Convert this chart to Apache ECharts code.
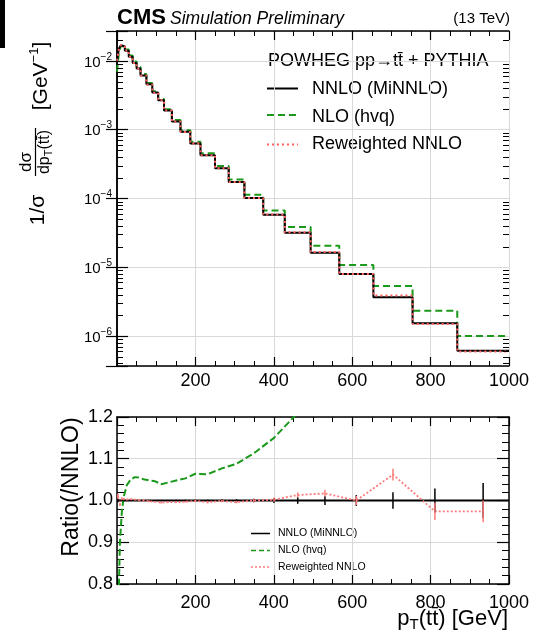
<!DOCTYPE html>
<html><head><meta charset="utf-8">
<script src="https://cdn.jsdelivr.net/npm/echarts@6/dist/echarts.min.js"></script>
<style>html,body{margin:0;padding:0;background:#fff}#c{width:533px;height:639px}</style>
</head><body><div id="c"></div>
<script>
// ---- data ----
const binEdges = [0,5,10,15,20,30,40,50,60,75,90,105,120,140,162,187,213,250,285,325,373,428,494,567,654,754,868,1000];
const binCenters = [2.5,7.5,12.5,17.5,25,35,45,55,67.5,82.5,97.5,112.5,130,151,174.5,200,231.5,267.5,305,349,400.5,461,530.5,610.5,704,811,934];
const nnloValues = [0.0100,0.01514,0.01698,0.01622,0.01413,0.01148,0.00933,0.00776,0.00617,0.00457,0.00347,0.00269,0.00191,0.00132,0.000933,0.000631,0.000427,0.000275,0.000174,0.000102,5.82e-5,3.18e-5,1.63e-5,7.98e-6,3.66e-6,1.53e-6,6.1e-7];
const nloValues = [0.0070,0.01363,0.01656,0.01638,0.01465,0.01205,0.00985,0.00819,0.00648,0.00479,0.00363,0.00279,0.00199,0.00138,0.000982,0.000671,0.000454,0.000296,0.000189,0.0001135,6.69e-5,3.85e-5,2.06e-5,1.08e-5,5.33e-6,2.33e-6,1.0e-6];
const rewValues = [0.0101,0.01499,0.01706,0.01627,0.01416,0.01151,0.00935,0.00777,0.00617,0.00456,0.00346,0.00268,0.00190,0.001315,0.000930,0.000630,0.000425,0.000275,0.000173,0.000102,5.83e-5,3.22e-5,1.66e-5,7.98e-6,3.89e-6,1.49e-6,5.94e-7];
const ratioNNLO = [1,1,1,1,1,1,1,1,1,1,1,1,1,1,1,1,1,1,1,1,1,1,1,1,1,1,1];
const ratioNLO = [0.70,0.90,0.975,1.01,1.037,1.05,1.056,1.055,1.051,1.048,1.046,1.039,1.043,1.048,1.053,1.064,1.063,1.077,1.088,1.113,1.15,1.21,1.26,1.35,1.46,1.52,1.65];
const ratioRew = [1.01,0.99,1.005,1.003,1.002,1.003,1.002,1.001,1.0,0.998,0.997,0.995,0.996,0.996,0.997,0.999,0.996,0.999,0.996,1.0,1.002,1.013,1.017,1.0,1.062,0.974,0.974];
const errNNLO = [0.004,0.002,0.002,0.002,0.001,0.001,0.001,0.001,0.001,0.001,0.001,0.001,0.001,0.002,0.002,0.002,0.002,0.003,0.003,0.004,0.006,0.008,0.011,0.013,0.02,0.029,0.042];
const errRew = [0.006,0.003,0.003,0.002,0.002,0.002,0.002,0.002,0.002,0.002,0.002,0.002,0.002,0.002,0.002,0.003,0.003,0.003,0.003,0.004,0.005,0.006,0.008,0.011,0.014,0.021,0.026];
const xTicks = [200,400,600,800,1000];
const logMinorTicks = [4e-7,5e-7,6e-7,7e-7,8e-7,9e-7,
  2e-6,3e-6,4e-6,5e-6,6e-6,7e-6,8e-6,9e-6,
  2e-5,3e-5,4e-5,5e-5,6e-5,7e-5,8e-5,9e-5,
  2e-4,3e-4,4e-4,5e-4,6e-4,7e-4,8e-4,9e-4,
  2e-3,3e-3,4e-3,5e-3,6e-3,7e-3,8e-3,9e-3, 2e-2];
const legendNames = ['NNLO (MiNNLO)','NLO (hvq)','Reweighted NNLO'];

const FONT = '"Liberation Sans", Arial, Helvetica, sans-serif';
const GREEN = '#1a991a', RED = '#ff5f5f', RED2 = '#ff7a7a';
const yMinTop = 3.66e-7, yMaxTop = 0.0273;

function stepData(vals){ return binEdges.map((e,i)=>[e, vals[Math.min(i, vals.length-1)]]); }
function ptData(vals){ return binCenters.map((c,i)=>[c, vals[i]]); }
function errData(vals, errs){ return binCenters.map((c,i)=>[c, vals[i], errs[i]]); }

function xAx(grid, pos, labels, split, margin){
  return {type:'value', gridIndex:grid, position:pos, min:0, max:1000, interval:200,
    axisLine:{show:true, onZero:false, lineStyle:{color:'#000', width:1.5}},
    axisTick:{show:true, inside:true, length:9, lineStyle:{color:'#000', width:1.2}},
    minorTick:{show:true, splitNumber:4, length:5, lineStyle:{color:'#000', width:1}},
    axisLabel:{show:labels, showMinLabel:false, showMaxLabel:true, fontSize:18, color:'#000', fontFamily:FONT, margin:margin,
      formatter: v => xTicks.indexOf(Math.round(v))>=0 ? String(Math.round(v)) : ''},
    splitLine:{show:split, lineStyle:{color:'#d9d9d9', width:1}},
    minorSplitLine:{show:false}};
}
function logFmt(v){
  const e = Math.log10(v), r = Math.round(e);
  if (Math.abs(e-r) > 1e-6) return '';
  return '{b|10}{s|' + (r<0?'\u2212':'') + Math.abs(r) + '}';
}
function yLog(pos, labels, split){
  return {type:'log', logBase:10, gridIndex:0, position:pos, min:yMinTop, max:yMaxTop,
    axisLine:{show:true, lineStyle:{color:'#000', width:1.5}},
    axisTick:{show:true, inside:true, length:11, lineStyle:{color:'#000', width:1.2}},
    minorTick:{show:false},
    axisLabel:{show:labels, margin:5, formatter:logFmt, color:'#000', fontFamily:FONT,
      rich:{b:{fontSize:15, lineHeight:18, fontFamily:FONT, color:'#000', verticalAlign:'bottom'},
            s:{fontSize:10, lineHeight:10, fontFamily:FONT, color:'#000', verticalAlign:'top'}}},
    splitLine:{show:split, lineStyle:{color:'#d9d9d9', width:1}},
    minorSplitLine:{show:false}};
}
function yRatio(pos, labels, split){
  return {type:'value', gridIndex:1, position:pos, min:0.8, max:1.2, interval:0.1,
    axisLine:{show:true, onZero:false, lineStyle:{color:'#000', width:1.5}},
    axisTick:{show:true, inside:true, length:12, lineStyle:{color:'#000', width:1.2}},
    minorTick:{show:true, splitNumber:5, length:7, lineStyle:{color:'#000', width:1}},
    axisLabel:{show:labels, margin:4, fontSize:18, color:'#000', fontFamily:FONT, formatter: v => v.toFixed(1)},
    splitLine:{show:split, lineStyle:{color:'#d9d9d9', width:1.2}},
    minorSplitLine:{show:false}};
}
function errSeries(name, vals, errs, color){
  return {type:'custom', name:name, xAxisIndex:2, yAxisIndex:2, clip:true, z:5,
    data: errData(vals, errs),
    renderItem: (params, api) => {
      const x = api.value(0), y = api.value(1), e = api.value(2);
      const p1 = api.coord([x, y-e]), p2 = api.coord([x, y+e]);
      return {type:'line', shape:{x1:p1[0], y1:p1[1], x2:p2[0], y2:p2[1]}, style:{stroke:color, lineWidth:1.5}};
    }};
}
const minorTickSeries = {type:'custom', name:'log minor ticks', xAxisIndex:0, yAxisIndex:0, z:10, silent:true,
  data: logMinorTicks.map(v => [0, v]),
  renderItem: (params, api) => {
    const cs = params.coordSys;
    const p = api.coord([0, api.value(1)]);
    const y = Math.round(p[1]) + 0.5;
    return {type:'group', children:[
      {type:'line', shape:{x1:cs.x, y1:y, x2:cs.x+6, y2:y}, style:{stroke:'#000', lineWidth:1}},
      {type:'line', shape:{x1:cs.x+cs.width-6, y1:y, x2:cs.x+cs.width, y2:y}, style:{stroke:'#000', lineWidth:1}}
    ]};
  }};
function line(name, data, xi, yi, color, width, type, step, z){
  const s = {type:'line', name:name, xAxisIndex:xi, yAxisIndex:yi, data:data, symbol:'none', clip:true, z:z||2,
    lineStyle:{color:color, width:width, type:type}};
  if (step) s.step = 'end';
  return s;
}

const chart = echarts.init(document.getElementById('c'), null, {renderer:'canvas'});
const txt = (x, y, text, size, extra) => Object.assign({type:'text', x:x, y:y, silent:true,
  style:Object.assign({text:text, fontSize:size, fontFamily:FONT, fill:'#000', textAlign:'left', textVerticalAlign:'middle'}, extra||{})});

const option = {
  animation:false,
  backgroundColor:'#fff',
  grid:[{left:117, top:31, width:392, height:335}, {left:117, top:417, width:392, height:167}],
  xAxis:[xAx(0,'bottom',true,true,6), xAx(0,'top',false,false,6), xAx(1,'bottom',true,true,10), xAx(1,'top',false,false,6)],
  yAxis:[yLog('left',true,true), yLog('right',false,false), yRatio('left',true,true), yRatio('right',false,false)],
  series:[
    line('NLO (hvq)', stepData(nloValues), 0, 0, GREEN, 2, [7,4], true, 2),
    line('NNLO (MiNNLO)', stepData(nnloValues), 0, 0, '#000', 2, 'solid', true, 3),
    line('Reweighted NNLO', stepData(rewValues), 0, 0, RED, 2, [2,3], true, 4),
    minorTickSeries,
    line('NNLO ratio', stepData(ratioNNLO), 2, 2, '#000', 2, 'solid', true, 2),
    line('NLO ratio', ptData(ratioNLO), 2, 2, GREEN, 2, [7,3], false, 3),
    line('Reweighted ratio', ptData(ratioRew), 2, 2, RED2, 1.8, [2,2], false, 4),
    errSeries('NNLO err', ratioNNLO, errNNLO, '#000'),
    errSeries('Rew err', ratioRew, errRew, RED2)
  ],
  graphic:[
    {type:'rect', shape:{x:0, y:0, width:5, height:48}, style:{fill:'#000'}, silent:true},
    txt(117, 18, 'CMS', 22, {fontWeight:'bold'}),
    txt(170, 19, 'Simulation Preliminary', 17.5, {fontStyle:'italic'}),
    txt(510, 19, '(13 TeV)', 15, {textAlign:'right'}),
    txt(268, 61, 'POWHEG pp\u2192tt\u0304 + PYTHIA', 18),
    // top legend
    {type:'line', silent:true, shape:{x1:267, y1:88.5, x2:298, y2:88.5}, style:{stroke:'#000', lineWidth:2}},
    {type:'line', silent:true, shape:{x1:267, y1:115, x2:298, y2:115}, style:{stroke:GREEN, lineWidth:2, lineDash:[7,4]}},
    {type:'line', silent:true, shape:{x1:267, y1:144.5, x2:298, y2:144.5}, style:{stroke:RED, lineWidth:2, lineDash:[2,3]}},
    txt(312, 89, legendNames[0], 18),
    txt(312, 117.5, legendNames[1], 18),
    txt(312, 144.5, legendNames[2], 18),
    // bottom legend
    {type:'line', silent:true, shape:{x1:251, y1:533.5, x2:270, y2:533.5}, style:{stroke:'#000', lineWidth:1.5}},
    {type:'line', silent:true, shape:{x1:251, y1:550.5, x2:270, y2:550.5}, style:{stroke:GREEN, lineWidth:1.5, lineDash:[5,3]}},
    {type:'line', silent:true, shape:{x1:251, y1:567, x2:270, y2:567}, style:{stroke:RED2, lineWidth:1.5, lineDash:[2,2]}},
    txt(278, 533.5, legendNames[0], 10.5),
    txt(278, 550.5, legendNames[1], 10.5),
    txt(278, 567, legendNames[2], 10.5),
    // axis titles
    txt(508, 620, '{a|p}{s|T}{a|(tt\u0304) [GeV]}', 22, {textAlign:'right',
      rich:{a:{fontSize:22, lineHeight:25, fontFamily:FONT, fill:'#000', verticalAlign:'top'},
            s:{fontSize:15, lineHeight:15, fontFamily:FONT, fill:'#000', verticalAlign:'bottom'}}}),
    txt(72, 487, 'Ratio(/NNLO)', 23, {textAlign:'center'}),
    txt(38.5, 210, '1/\u03c3', 21, {textAlign:'center'}),
    txt(26, 162, 'd\u03c3', 17, {textAlign:'center'}),
    {type:'line', silent:true, shape:{x1:35.5, y1:128, x2:35.5, y2:176}, style:{stroke:'#000', lineWidth:1.2}},
    txt(45.5, 152, '{a|dp}{s|T}{a|(tt\u0304)}', 16, {textAlign:'center',
      rich:{a:{fontSize:16, lineHeight:18, fontFamily:FONT, fill:'#000', verticalAlign:'top'},
            s:{fontSize:11, lineHeight:11, fontFamily:FONT, fill:'#000', verticalAlign:'bottom'}}}),
    txt(40, 76, '{a|[GeV}{s|\u22121}{a|]}', 21, {textAlign:'center',
      rich:{a:{fontSize:21, lineHeight:24, fontFamily:FONT, fill:'#000', verticalAlign:'bottom'},
            s:{fontSize:13, lineHeight:13, fontFamily:FONT, fill:'#000', verticalAlign:'top'}}})
  ]
};
// rotate the vertical titles
['Ratio(/NNLO)','1/\u03c3','d\u03c3','{a|dp}{s|T}{a|(tt\u0304)}','{a|[GeV}{s|\u22121}{a|]}'].forEach(t => {
  option.graphic.forEach(g => { if (g.type==='text' && g.style.text===t) g.rotation = Math.PI/2; });
});
chart.setOption(option);
</script></body></html>
